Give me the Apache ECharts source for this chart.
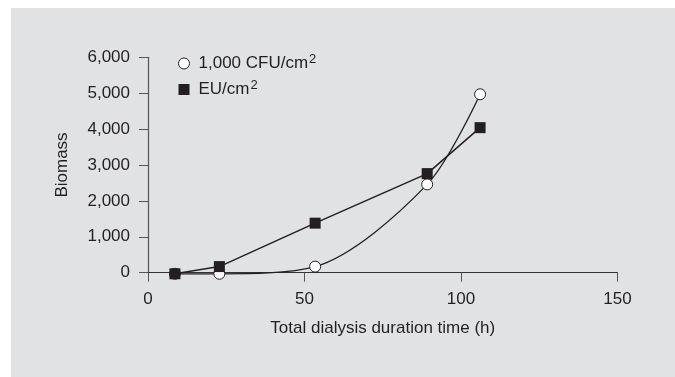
<!DOCTYPE html>
<html>
<head>
<meta charset="utf-8">
<script src="https://cdn.jsdelivr.net/npm/echarts@6/dist/echarts.min.js"></script>
<style>
html,body{margin:0;padding:0;background:#fff;}
#main{width:675px;height:377px;}
</style>
</head>
<body>
<div id="main"></div>
<script>
// Data
const hoursCFU = [8.6, 22.8, 53.4, 89.2, 106.1];
const biomassCFU = [-30, -30, 170, 2460, 4970];
const hoursEU = [8.6, 22.8, 53.4, 89.2, 106.1];
const biomassEU = [-30, 170, 1380, 2760, 4040];
const seriesNames = ['1,000 CFU/cm2', 'EU/cm2'];
const xTicks = [0, 50, 100, 150];
const yTicks = [0, 1000, 2000, 3000, 4000, 5000, 6000];

const ink = '#231f20';
const font = 'Liberation Sans';

function pairs(xs, ys) { return xs.map((x, i) => [x, ys[i]]); }

const chart = echarts.init(document.getElementById('main'), null, {renderer: 'canvas'});
chart.setOption({
  backgroundColor: 'transparent',
  animation: false,
  graphic: [{
    type: 'rect', left: 11, top: 8, z: -100, silent: true,
    shape: {width: 664, height: 369},
    style: {fill: '#e1e2e4'}
  }],
  grid: {left: 148, right: 57.5, top: 57.3, bottom: 104.3, containLabel: false},
  legend: {
    orient: 'vertical', left: 173, top: 48, itemWidth: 11, itemHeight: 11, itemGap: 7,
    data: [
      {name: seriesNames[0], icon: 'circle', itemStyle: {color: '#fff', borderColor: ink, borderWidth: 1}},
      {name: seriesNames[1], icon: 'rect', itemStyle: {color: ink, borderWidth: 0}}
    ],
    formatter: function (n) {
      return '{a|' + n.slice(0, -1) + '}{s|2}';
    },
    textStyle: {
      color: ink, fontFamily: font, fontSize: 17,
      rich: {
        a: {color: ink, fontFamily: font, fontSize: 17, padding: [0, 0, 0, 4]},
        s: {color: ink, fontFamily: font, fontSize: 13, padding: [0, 0, 8, 1]}
      }
    }
  },
  xAxis: {
    type: 'value', min: 0, max: 150, interval: 50,
    name: 'Total dialysis duration time (h)', nameLocation: 'middle', nameGap: 47,
    nameTextStyle: {color: ink, fontFamily: font, fontSize: 17},
    axisLine: {show: true, onZero: false, lineStyle: {color: '#333', width: 1.2}},
    axisTick: {show: true, length: 9, lineStyle: {color: '#555'}},
    axisLabel: {color: ink, fontFamily: font, fontSize: 17, margin: 18,
      formatter: v => xTicks.includes(v) ? String(v) : ''},
    splitLine: {show: false}
  },
  yAxis: {
    type: 'value', min: 0, max: 6000, interval: 1000,
    name: 'Biomass', nameLocation: 'middle', nameGap: 77, nameRotate: 90,
    nameTextStyle: {color: ink, fontFamily: font, fontSize: 17},
    axisLine: {show: true, onZero: false, lineStyle: {color: '#555', width: 1.2}},
    axisTick: {show: true, length: 9, lineStyle: {color: '#555'}},
    axisLabel: {color: ink, fontFamily: font, fontSize: 17, margin: 18,
      formatter: v => yTicks.includes(v) ? v.toLocaleString('en-US') : ''},
    splitLine: {show: false}
  },
  series: [
    {
      name: seriesNames[0], type: 'line', clip: false, smooth: 0.3, z: 3,
      data: pairs(hoursCFU, biomassCFU),
      symbol: 'circle', symbolSize: 11, showAllSymbol: true,
      lineStyle: {color: ink, width: 1.3},
      itemStyle: {color: '#fff', borderColor: ink, borderWidth: 1}
    },
    {
      name: seriesNames[1], type: 'line', clip: false, z: 4,
      data: pairs(hoursEU, biomassEU),
      symbol: 'rect', symbolSize: 11,
      lineStyle: {color: ink, width: 1.5},
      itemStyle: {color: ink, borderWidth: 0}
    }
  ]
});
</script>
</body>
</html>
